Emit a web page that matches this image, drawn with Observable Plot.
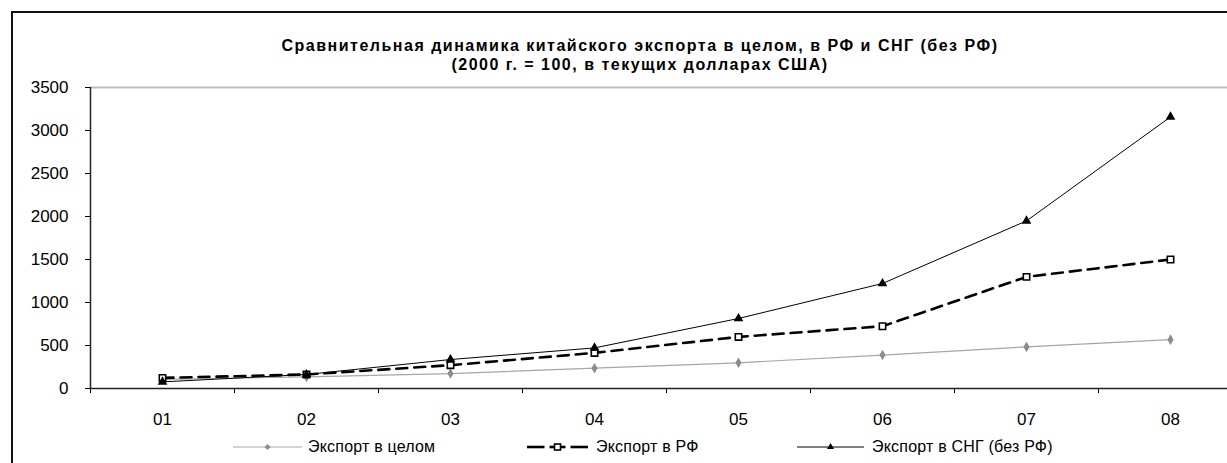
<!DOCTYPE html>
<html><head><meta charset="utf-8">
<script src="https://cdn.jsdelivr.net/npm/d3@7"></script>
<script src="https://cdn.jsdelivr.net/npm/@observablehq/plot@0.6"></script>
<style>
html,body{margin:0;padding:0;background:#fff;overflow:hidden;}
#wrap{position:relative;width:1227px;height:463px;overflow:hidden;font-family:"Liberation Sans",Arial,sans-serif;}
#frame{position:absolute;left:11px;top:11px;width:1400px;height:600px;border-left:2px solid #111;border-top:2px solid #111;box-sizing:border-box;}
#title{position:absolute;left:0;top:36px;width:1280px;text-align:center;font-weight:bold;font-size:16px;line-height:19px;letter-spacing:1.5px;color:#000;}
#chart{position:absolute;left:0;top:75px;}
#legend{position:absolute;left:0;top:437px;width:1227px;height:20px;font-size:16px;letter-spacing:0.2px;color:#000;}
.sw{position:absolute;top:0;}
.lt{position:absolute;top:0;line-height:20px;white-space:nowrap;}
</style>
</head><body>
<div id="wrap">
<div id="frame"></div>
<div id="title">Сравнительная динамика китайского экспорта в целом, в РФ и СНГ (без РФ)<br>(2000 г. = 100, в текущих долларах США)</div>
<div id="chart"></div>
<div id="legend"></div>
</div>
<script>
const categories = ["01","02","03","04","05","06","07","08"];
const exportTotal = [107,135,174,236,299,389,484,568];
const exportRF = [123,163,271,414,600,724,1298,1500];
const exportCIS = [77,163,337,472,814,1221,1949,3158];
const yTicks = [0,500,1000,1500,2000,2500,3000,3500];
const seriesNames = ["Экспорт в целом","Экспорт в РФ","Экспорт в СНГ (без РФ)"];

const idx = categories.map((c,i)=>i);
const rows = (vals) => vals.map((v,i)=>({i, v}));
const tTotal = rows(exportTotal), tRF = rows(exportRF), tCIS = rows(exportCIS);
const boundaries = d3.range(-0.5, categories.length, 1);

const font = "Liberation Sans, Arial, sans-serif";
const chart = Plot.plot({
  width: 1227,
  height: 355,
  marginLeft: 90,
  marginTop: 12,
  marginBottom: 42,
  marginRight: 0,
  style: {fontFamily: font, background: "transparent", overflow: "hidden"},
  x: {type: "linear", domain: [-0.5, categories.length - 0.5], range: [90, 1242]},
  y: {domain: [0, 3500], range: [313, 12]},
  marks: [
    Plot.ruleY([3500], {stroke: "#bdbdbd", strokeWidth: 2}),
    Plot.axisY({ticks: yTicks, tickSize: 5, tickPadding: 17, fontSize: 17, label: null, tickFormat: d => String(d), color: "#000"}),
    Plot.axisX({ticks: boundaries, tickSize: 5, tickFormat: () => "", label: null}),
    Plot.axisX({ticks: idx, tickSize: 0, tickPadding: 24, fontSize: 17, label: null, tickFormat: i => categories[i]}),
    Plot.ruleX([-0.5], {y1: 0, y2: 3500, stroke: "#222", strokeWidth: 1.5}),
    Plot.ruleY([0], {stroke: "#222", strokeWidth: 1.5}),
    Plot.line(tTotal, {x: "i", y: "v", stroke: "#a6a6a6", strokeWidth: 1.2}),
    Plot.dot(tTotal, {x: "i", y: "v", symbol: "diamond", r: 3.2, fill: "#8c8c8c", stroke: "none"}),
    Plot.line(tRF, {x: "i", y: "v", stroke: "#000", strokeWidth: 2.6, strokeDasharray: "11,7"}),
    Plot.dot(tRF, {x: "i", y: "v", symbol: "square", r: 3.6, fill: "#fff", stroke: "#000", strokeWidth: 1.6}),
    Plot.line(tCIS, {x: "i", y: "v", stroke: "#000", strokeWidth: 1}),
    Plot.dot(tCIS, {x: "i", y: "v", symbol: "triangle", r: 3.6, fill: "#000", stroke: "none"})
  ]
});
document.getElementById("chart").appendChild(chart);

// legend
const legend = document.getElementById("legend");
const items = [
  {x0: 233, x1: 302, tx: 308, name: seriesNames[0],
   g: (w) => `<line x1="0" y1="10" x2="${w}" y2="10" stroke="#a6a6a6" stroke-width="1.2"/><path d="M${w/2},7 L${w/2+3},10 L${w/2},13 L${w/2-3},10Z" fill="#8c8c8c"/>`},
  {x0: 527, x1: 588, tx: 596, name: seriesNames[1],
   g: (w) => `<line x1="0" y1="10" x2="${w/2-13}" y2="10" stroke="#000" stroke-width="2.6"/><line x1="${w/2+13}" y1="10" x2="${w}" y2="10" stroke="#000" stroke-width="2.6"/><line x1="${w/2-8}" y1="10" x2="${w/2+8}" y2="10" stroke="#000" stroke-width="2.6"/><rect x="${w/2-3}" y="7" width="6" height="6" fill="#fff" stroke="#000" stroke-width="1.6"/>`},
  {x0: 797, x1: 864, tx: 872, name: seriesNames[2],
   g: (w) => `<line x1="0" y1="10" x2="${w}" y2="10" stroke="#000" stroke-width="1"/><path d="M${w/2},6 L${w/2+3.5},12 L${w/2-3.5},12Z" fill="#000"/>`}
];
for (const it of items) {
  const w = it.x1 - it.x0;
  const s = document.createElement("div");
  s.className = "sw";
  s.style.left = it.x0 + "px";
  s.innerHTML = `<svg width="${w}" height="20">${it.g(w)}</svg>`;
  legend.appendChild(s);
  const t = document.createElement("div");
  t.className = "lt";
  t.style.left = it.tx + "px";
  t.textContent = it.name;
  legend.appendChild(t);
}
</script>
</body></html>
